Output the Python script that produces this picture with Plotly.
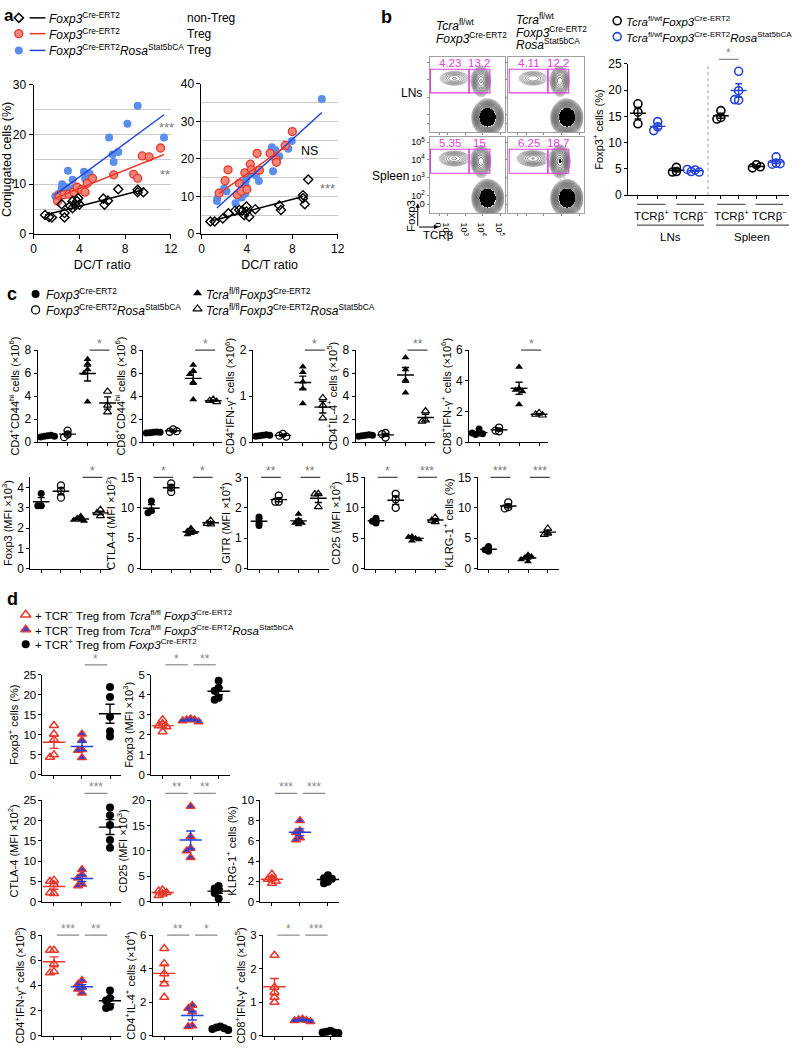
import numpy as np
import plotly.graph_objects as go

W, H = 796, 1048
FONT = "Liberation Sans"
RED = "#e8382b"
BLUE = "#2443d6"
MAG = "#e03ce0"

# ---------------- Panel a data ----------------
a1_blue_x = [1.9, 2.15, 2.45, 2.5, 2.9, 3.0, 3.4, 3.5, 4.4, 4.5, 4.9, 6.6, 6.9, 7.0, 7.4, 8.2, 9.1, 11.4]
a1_blue_y = [7.6, 8.0, 9.2, 10.0, 9.4, 12.7, 10.9, 9.2, 12.5, 11.1, 12.1, 19.4, 16.0, 14.5, 16.5, 22.2, 25.8, 19.4]
a1_red_x = [2.1, 2.2, 2.65, 3.1, 3.5, 3.8, 4.2, 4.5, 4.7, 5.15, 7.0, 8.75, 9.1, 9.5, 10.1, 11.1]
a1_red_y = [6.6, 7.8, 7.9, 8.0, 8.4, 9.4, 8.9, 8.4, 10.2, 11.2, 11.9, 12.0, 11.2, 15.7, 15.5, 17.3]
a1_black_x = [1.0, 1.35, 1.6, 2.45, 2.7, 2.7, 3.2, 3.4, 3.4, 3.65, 3.8, 3.9, 4.0, 6.1, 6.2, 6.5, 7.4, 9.1, 9.1, 9.6]
a1_black_y = [3.8, 3.4, 3.3, 6.0, 3.3, 4.2, 5.6, 6.6, 5.2, 5.8, 6.6, 7.2, 5.9, 7.1, 5.9, 6.7, 9.0, 8.4, 8.9, 8.4]
a1_fit_blue_x, a1_fit_blue_y = [1.9, 11.4], [7.9, 24.0]
a1_fit_red_x, a1_fit_red_y = [1.9, 11.4], [7.2, 16.0]
a1_fit_black_x, a1_fit_black_y = [1.0, 9.6], [3.8, 8.9]

a2_blue_x = [1.36, 1.4, 2.0, 2.2, 3.0, 3.4, 3.55, 3.85, 3.9, 3.9, 4.0, 4.25, 4.8, 5.05, 6.2, 6.3, 6.5, 6.85, 7.65, 7.95, 10.6]
a2_blue_y = [8.8, 9.5, 12.1, 11.4, 8.2, 9.8, 9.7, 10.7, 12.7, 14.2, 15.2, 16.3, 15.6, 14.1, 23.1, 16.7, 22.4, 20.7, 22.7, 24.8, 36.0]
a2_red_x = [1.56, 2.08, 2.34, 3.15, 3.33, 3.5, 3.82, 4.0, 4.3, 4.4, 4.9, 5.1, 6.04, 6.56, 6.6, 7.37, 8.0]
a2_red_y = [10.9, 14.2, 17.1, 10.5, 13.5, 11.4, 16.3, 11.9, 18.6, 17.1, 21.5, 17.0, 21.5, 19.8, 19.1, 23.6, 27.3]
a2_black_x = [0.78, 1.16, 1.88, 2.37, 2.95, 3.33, 3.6, 3.76, 3.96, 3.96, 4.2, 4.74, 6.85, 7.0, 8.94, 8.94, 9.1, 9.4]
a2_black_y = [3.3, 3.3, 4.1, 5.5, 6.2, 6.4, 6.2, 5.0, 7.3, 6.0, 4.6, 6.6, 7.6, 6.4, 10.3, 9.5, 7.9, 14.5]
a2_fit_blue_x, a2_fit_blue_y = [1.36, 10.6], [6.9, 32.4]
a2_fit_red_x, a2_fit_red_y = [1.56, 7.4], [10.8, 23.3]
a2_fit_black_x, a2_fit_black_y = [0.8, 8.94], [3.4, 10.0]

# ---------------- Panel b data ----------------
flow_pct_left = [4.23, 4.11, 5.35, 6.25]
flow_pct_right = [13.2, 12.2, 15, 18.7]
flow_pop_cx = [4.28, 3.89, 2.39]   # TCR+Foxp3-, TCR+Foxp3+, TCR-Foxp3+
flow_pop_cy = [1.84, 3.92, 4.08]
flow_pop_sx = [0.3, 0.22, 0.42]
flow_pop_sy = [0.35, 0.35, 0.21]
flow_gate_x = [1.05, 3.22, 4.39]
flow_gate_y = [3.25, 4.6]

b_groups = ["LN TCRb+ ctrl", "LN TCRb+ Stat5b", "LN TCRb- ctrl", "LN TCRb- Stat5b",
            "Spleen TCRb+ ctrl", "Spleen TCRb+ Stat5b", "Spleen TCRb- ctrl", "Spleen TCRb- Stat5b"]
b_foxp3_pct = [[17.4, 15.8, 13.6], [14.0, 13.0, 12.3], [5.3, 4.5, 4.4], [4.8, 4.5, 4.4, 4.9],
               [16.1, 14.8, 14.5], [23.6, 19.9, 18.1, 18.2], [5.8, 5.2, 5.4], [7.3, 6.1, 5.9, 6.0]]

# ---------------- Panel c data ----------------
c_cd4cd44 = [[0.55, 0.5, 0.6, 0.45, 0.5], [1.0, 0.66, 0.43], [6.8, 7.2, 6.3, 6.0, 3.5], [4.4, 3.2, 2.6]]
c_cd8cd44 = [[0.85, 0.82, 0.88, 0.8, 0.86], [1.1, 0.9, 0.95], [6.7, 6.2, 5.9, 5.2, 3.7], [3.7, 3.6, 3.5]]
c_cd4ifng = [[0.15, 0.14, 0.16, 0.13, 0.15], [0.18, 0.14, 0.12], [1.52, 1.64, 1.31, 1.16, 0.84], [0.96, 0.8, 0.52]]
c_cd4il4 = [[0.6, 0.55, 0.65, 0.5, 0.6], [0.8, 0.7, 0.4], [7.35, 6.3, 5.4, 4.3], [2.7, 1.9, 1.8]]
c_cd8ifng = [[0.85, 0.6, 0.5, 0.55, 0.6], [0.95, 0.7, 0.75], [4.9, 3.5, 3.4, 3.3, 2.45], [1.9, 1.8, 1.75]]
c_foxp3 = [[3.7, 3.1, 3.1], [4.1, 3.85, 3.5], [2.6, 2.5, 2.4, 2.35, 2.4], [2.9, 2.75, 2.6]]
c_ctla4 = [[11.1, 9.5, 9.2], [14.0, 13.3, 12.6], [6.7, 6.2, 5.8, 6.0, 5.6], [7.9, 7.4, 7.3]]
c_gitr = [[1.7, 1.55, 1.42], [2.4, 2.2, 2.2], [1.8, 1.6, 1.5, 1.45, 1.5], [2.46, 2.45, 2.03]]
c_cd25 = [[8.3, 7.8, 7.5], [12.3, 11.4, 10.0], [5.0, 4.6, 5.3, 4.8, 5.2], [8.4, 7.9, 7.7]]
c_klrg1 = [[3.66, 3.1, 2.85], [10.9, 10.1, 9.9], [2.3, 1.8, 1.2, 2.0, 1.5], [6.6, 5.8, 5.6]]

# ---------------- Panel d data ----------------
d_foxp3pct = [[12.3, 10.2, 8.8, 5.0, 4.4], [10.2, 8.6, 6.3, 6.1, 4.3], [21.9, 19.4, 14.5, 10.9, 9.6]]
d_foxp3mfi = [[2.75, 2.55, 2.45, 2.4, 2.15], [2.8, 2.75, 2.75, 2.7, 2.65], [4.7, 4.35, 4.2, 3.85, 3.75]]
d_ctla4 = [[5.3, 5.0, 4.2, 2.0, 2.2], [7.9, 6.6, 5.8, 4.3, 3.9], [23.2, 21.3, 18.9, 15.2, 13.3]]
d_cd25 = [[2.3, 2.1, 1.8, 1.5, 1.2], [18.8, 12.8, 10.5, 10.0, 8.7], [3.1, 2.6, 2.3, 1.7, 0.6]]
d_klrg1 = [[2.7, 2.3, 2.2, 2.0, 1.8], [8.0, 7.0, 6.8, 6.3, 6.1], [2.6, 2.3, 2.25, 1.95, 1.8]]
d_cd4ifng = [[6.8, 6.8, 5.7, 5.1, 5.0], [4.4, 4.1, 3.87, 3.7, 3.4], [3.6, 3.0, 2.8, 2.3, 2.2]]
d_cd4il4 = [[5.2, 4.3, 3.7, 3.1, 2.3], [1.82, 1.63, 1.43, 0.59, 0.55], [0.55, 0.5, 0.45, 0.4, 0.35]]
d_cd8ifng = [[2.4, 1.45, 1.3, 1.15, 1.0], [0.5, 0.48, 0.46, 0.45, 0.42], [0.15, 0.12, 0.1, 0.1, 0.08]]

# ---------------- helpers ----------------
fig = go.Figure()
LAY = {}
SHAPES = []
ANN = []
_n = [0]


def add_axes(x0, x1, ytop, ybot, xkw, ykw):
    _n[0] += 1
    s = '' if _n[0] == 1 else str(_n[0])
    LAY['xaxis' + s] = dict(domain=[x0 / W, x1 / W], anchor='y' + s, **xkw)
    LAY['yaxis' + s] = dict(domain=[1 - ybot / H, 1 - ytop / H], anchor='x' + s, **ykw)
    return 'x' + s, 'y' + s


def px(x):
    return x / W


def py(y):
    return 1 - y / H


def text(x, y, t, size=11, color='black', xanchor='left', yanchor='middle', angle=0):
    ANN.append(dict(x=px(x), y=py(y), xref='paper', yref='paper', text=t, showarrow=False,
                    xanchor=xanchor, yanchor=yanchor, textangle=angle, borderpad=0,
                    font=dict(size=size, color=color, family=FONT)))


def pline(x0, y0, x1, y1, color='black', width=1, dash='solid'):
    SHAPES.append(dict(type='line', xref='paper', yref='paper', x0=px(x0), y0=py(y0), x1=px(x1), y1=py(y1),
                       line=dict(color=color, width=width, dash=dash)))


# canvas (pixel coordinates) for legend symbols
CX, CY = add_axes(0, W, 0, H, dict(range=[0, W], visible=False, fixedrange=True),
                  dict(range=[H, 0], visible=False, fixedrange=True))


def leg_marker(x, y, symbol, size, color, lcolor, lw):
    fig.add_trace(go.Scatter(x=[x], y=[y], xaxis=CX, yaxis=CY, mode='markers', cliponaxis=False,
                             marker=dict(symbol=symbol, size=size, color=color, line=dict(color=lcolor, width=lw))))


def leg_line(x0, x1, y, color):
    fig.add_trace(go.Scatter(x=[x0, x1], y=[y, y], xaxis=CX, yaxis=CY, mode='lines', cliponaxis=False,
                             line=dict(color=color, width=1.5)))


def swarm(vals, ppu_y, ppu_x, msize):
    placed, offs = [], []
    step = msize * 0.5
    for v in vals:
        yp = v * ppu_y
        xo = 0
        for k in [0, -1, 1, -2, 2, -3, 3]:
            xo = k * step
            if all((xo - a) ** 2 + (yp - b) ** 2 >= (msize * 0.5) ** 2 for a, b in placed):
                break
        placed.append((xo, yp))
        offs.append(xo / ppu_x)
    return offs


def dotplot(x0, width, ytop, ybot, xrange, ymax, yticks, ytitle, groups, styles, sigs,
            sig_dy=0, sig_off=(0.1, 0.1), mean_hw=0.42, cap_hw=0.17, tick_size=12, title_size=11,
            msize=7, sigcolor='#444', starcolor='#777', positions=None, sig_y_px=None):
    if positions is None:
        positions = list(range(1, len(groups) + 1))
    xr, yr = add_axes(x0, x0 + width, ytop, ybot,
                      dict(range=xrange, showline=True, linecolor='black', linewidth=1, ticks='outside',
                           ticklen=3, tickwidth=1, tickcolor='black', tickvals=positions,
                           showticklabels=False, showgrid=False, zeroline=False, fixedrange=True),
                      dict(range=[0, ymax], showline=True, linecolor='black', linewidth=1, ticks='outside',
                           ticklen=3, tickwidth=1, tickcolor='black', tickvals=yticks,
                           tickfont=dict(size=tick_size, family=FONT, color='black'),
                           showgrid=False, zeroline=False, fixedrange=True,
                           title=dict(text=ytitle, font=dict(size=title_size, family=FONT, color='black'),
                                      standoff=2)))
    ppu_y = (ybot - ytop) / ymax
    ppu_x = width / (xrange[1] - xrange[0])
    for gi, (vals, st) in enumerate(zip(groups, styles)):
        offs = swarm(vals, ppu_y, ppu_x, msize)
        c = positions[gi]
        fig.add_trace(go.Scatter(x=[c + o for o in offs], y=vals, xaxis=xr, yaxis=yr, mode='markers',
                                 cliponaxis=False,
                                 marker=dict(symbol=st['symbol'], size=msize, color=st['fill'],
                                             line=dict(color=st['line'], width=st['lw']))))
        m = float(np.mean(vals))
        s = float(np.std(vals, ddof=1) / np.sqrt(len(vals)))
        ex = [c - mean_hw, c + mean_hw, None, c, c, None, c - cap_hw, c + cap_hw, None, c - cap_hw, c + cap_hw]
        ey = [m, m, None, m - s, m + s, None, m + s, m + s, None, m - s, m - s]
        fig.add_trace(go.Scatter(x=ex, y=ey, xaxis=xr, yaxis=yr, mode='lines', cliponaxis=False,
                                 line=dict(color=st['err'], width=1.4)))
    for (a, b, lab) in sigs:
        xa_, xb_ = positions[a - 1] + sig_off[0], positions[b - 1] + sig_off[1]
        yl = py(sig_y_px if sig_y_px is not None else ytop + sig_dy)
        SHAPES.append(dict(type='line', xref=xr, yref='paper', x0=xa_, x1=xb_, y0=yl, y1=yl,
                           line=dict(color=sigcolor, width=1.2)))
        ANN.append(dict(x=(xa_ + xb_) / 2, y=yl, xref=xr, yref='paper', text=lab, showarrow=False,
                        yanchor='bottom', yshift=-3, font=dict(size=12, color=starcolor, family=FONT)))
    return xr, yr


# ================= Panel a =================
text(0, 9, '<b>a</b>', size=17)
leg_marker(16, 11, 'diamond-open', 7, 'black', 'black', 1.5)
leg_line(27, 43, 11, 'black')
leg_marker(16, 27, 'circle', 8, '#f2847a', RED, 1.3)
leg_line(27, 43, 27, RED)
leg_marker(16, 44, 'circle', 8, '#5b8ded', '#5b8ded', 0)
leg_line(27, 43, 44, BLUE)
text(46, 11, '<i>Foxp3</i><sup>Cre-ERT2</sup>', size=12)
text(46, 27, '<i>Foxp3</i><sup>Cre-ERT2</sup>', size=12)
text(46, 44, '<i>Foxp3</i><sup>Cre-ERT2</sup><i>Rosa</i><sup>Stat5bCA</sup>', size=12)
text(185, 11, 'non-Treg', size=12)
text(185, 27, 'Treg', size=12)
text(185, 44, 'Treg', size=12)


def a_axes(x0, x1, ytop, ybot, ymax, ytitle):
    return add_axes(x0, x1, ytop, ybot,
                    dict(range=[0, 12], tickvals=[0, 4, 8, 12], showline=True, linecolor='black', linewidth=1,
                         ticks='outside', ticklen=4, tickcolor='black', showgrid=False, zeroline=False,
                         tickfont=dict(size=12, family=FONT, color='black'), fixedrange=True,
                         title=dict(text='DC/T ratio', font=dict(size=12.5, family=FONT, color='black'), standoff=4)),
                    dict(range=[0, ymax], tickvals=list(range(0, ymax + 1, 10)), showline=True, linecolor='black',
                         linewidth=1, ticks='outside', ticklen=4, tickcolor='black', showgrid=True,
                         gridcolor='#c9c9c9', gridwidth=1, zeroline=False, fixedrange=True,
                         minor=dict(dtick=5, showgrid=True, gridcolor='#c9c9c9', gridwidth=1),
                         tickfont=dict(size=12, family=FONT, color='black'),
                         title=dict(text=ytitle, font=dict(size=12.5, family=FONT, color='black'), standoff=4)))


def a_series(xr, yr, bx, by, rx, ry, kx, ky, fits):
    fig.add_trace(go.Scatter(x=bx, y=by, xaxis=xr, yaxis=yr, mode='markers', cliponaxis=False,
                             marker=dict(symbol='circle', size=8, color='#5b8ded', line=dict(width=0))))
    fig.add_trace(go.Scatter(x=rx, y=ry, xaxis=xr, yaxis=yr, mode='markers', cliponaxis=False,
                             marker=dict(symbol='circle', size=8, color='#f2847a', line=dict(color=RED, width=1.3))))
    fig.add_trace(go.Scatter(x=kx, y=ky, xaxis=xr, yaxis=yr, mode='markers', cliponaxis=False,
                             marker=dict(symbol='diamond-open', size=7, color='black', line=dict(color='black', width=1.4))))
    for (fx, fy, col) in fits:
        fig.add_trace(go.Scatter(x=fx, y=fy, xaxis=xr, yaxis=yr, mode='lines', cliponaxis=False,
                                 line=dict(color=col, width=1.5)))


xa1, ya1 = a_axes(31, 170, 79, 230, 30, 'Conjugated cells (%)')
a_series(xa1, ya1, a1_blue_x, a1_blue_y, a1_red_x, a1_red_y, a1_black_x, a1_black_y,
         [(a1_fit_blue_x, a1_fit_blue_y, BLUE), (a1_fit_red_x, a1_fit_red_y, RED),
          (a1_fit_black_x, a1_fit_black_y, 'black')])
xa2, ya2 = a_axes(201, 339, 78, 230, 40, '')
a_series(xa2, ya2, a2_blue_x, a2_blue_y, a2_red_x, a2_red_y, a2_black_x, a2_black_y,
         [(a2_fit_blue_x, a2_fit_blue_y, BLUE), (a2_fit_red_x, a2_fit_red_y, RED),
          (a2_fit_black_x, a2_fit_black_y, 'black')])
text(166, 122, '***', size=13, color='#777', xanchor='center')
text(164, 170, '**', size=13, color='#777', xanchor='center')
text(310, 146, 'NS', size=12.5, xanchor='center')
text(329, 184, '***', size=13, color='#777', xanchor='center')

# ================= Panel b (flow) =================
text(382, 10, '<b>b</b>', size=18)
text(437, 18, '<i>Tcra</i><sup>fl/wt</sup>', size=12)
text(437, 31, '<i>Foxp3</i><sup>Cre-ERT2</sup>', size=12)
text(519, 12, '<i>Tcra</i><sup>fl/wt</sup>', size=12)
text(519, 25, '<i>Foxp3</i><sup>Cre-ERT2</sup>', size=12)
text(519, 38, '<i>Rosa</i><sup>Stat5bCA</sup>', size=12)
text(425, 87, 'LNs', size=12, xanchor='right')
text(412, 171, 'Spleen', size=12, xanchor='right')

flow_boxes = [(432, 508, 51, 127), (511.7, 588, 51, 127), (432, 508, 132, 209), (511.7, 588, 132, 209)]
gx = np.linspace(1.0, 5.22, 180)
gy = np.linspace(1.0, 5.28, 180)
GX, GY = np.meshgrid(gx, gy)
for k, (x0, x1, yt, yb) in enumerate(flow_boxes):
    lab = (k == 2)
    xr, yr = add_axes(x0, x1, yt, yb,
                      dict(range=[1.0, 5.22], showline=True, mirror=True, linecolor='#a0a0a0', linewidth=1,
                           ticks='outside', ticklen=2, tickcolor='#888', tickvals=[1.53, 2, 3, 4, 5],
                           ticktext=['0', '10<sup>2</sup>', '10<sup>3</sup>', '10<sup>4</sup>', '10<sup>5</sup>'],
                           showticklabels=lab, tickfont=dict(size=9, family=FONT, color='black'),
                           showgrid=False, zeroline=False, fixedrange=True),
                      dict(range=[1.0, 5.28], showline=True, mirror=True, linecolor='#a0a0a0', linewidth=1,
                           ticks='outside', ticklen=2, tickcolor='#888', tickvals=[1.5, 2, 3, 4, 5],
                           ticktext=['0', '10<sup>2</sup>', '10<sup>3</sup>', '10<sup>4</sup>', '10<sup>5</sup>'],
                           showticklabels=lab, tickfont=dict(size=9, family=FONT, color='black'),
                           showgrid=False, zeroline=False, fixedrange=True))
    weights = [100 - flow_pct_left[k] - flow_pct_right[k], flow_pct_right[k], flow_pct_left[k]]
    dens = np.zeros_like(GX)
    for w, cx, cy, sx, sy in zip(weights, flow_pop_cx, flow_pop_cy, flow_pop_sx, flow_pop_sy):
        dens += w / (sx * sy) * np.exp(-0.5 * (((GX - cx) / sx) ** 2 + ((GY - cy) / sy) ** 2))
    logd = np.log10(dens + 1e-6)
    peak = float(logd.max())
    fig.add_trace(go.Heatmap(x=gx, y=gy, z=np.where(logd > peak - 0.5, 1.0, np.nan), xaxis=xr, yaxis=yr,
                             colorscale=[[0, 'black'], [1, 'black']], showscale=False, zsmooth=False,
                             hoverinfo='skip'))
    fig.add_trace(go.Contour(x=gx, y=gy, z=logd, xaxis=xr, yaxis=yr, showscale=False,
                             contours=dict(coloring='lines', start=peak - 2.0, end=peak - 0.5, size=0.11),
                             colorscale=[[0, '#a0a0a0'], [0.45, '#444'], [1, '#111']],
                             line=dict(width=0.6), hoverinfo='skip'))
    gxl, gxm, gxr = flow_gate_x
    gyb, gyt = flow_gate_y
    for (ga, gb) in [(gxl, gxm), (gxm, gxr)]:
        SHAPES.append(dict(type='rect', xref=xr, yref=yr, x0=ga, x1=gb, y0=gyb, y1=gyt,
                           line=dict(color=MAG, width=1.1)))
    ANN.append(dict(x=(gxl + gxm) / 2, y=4.93, xref=xr, yref=yr, text=f'{flow_pct_left[k]:g}', showarrow=False,
                    font=dict(size=11.5, color=MAG, family=FONT)))
    ANN.append(dict(x=(gxm + gxr) / 2, y=4.93, xref=xr, yref=yr, text=f'{flow_pct_right[k]:g}', showarrow=False,
                    font=dict(size=11.5, color=MAG, family=FONT)))

# axis arrows
ANN.append(dict(x=px(420), y=py(199), xref='paper', yref='paper', ax=0, ay=24, axref='pixel', ayref='pixel',
                showarrow=True, arrowhead=2, arrowsize=0.9, arrowwidth=1, arrowcolor='black', text=''))
ANN.append(dict(x=px(441), y=py(223), xref='paper', yref='paper', ax=-21, ay=0, axref='pixel', ayref='pixel',
                showarrow=True, arrowhead=2, arrowsize=0.9, arrowwidth=1, arrowcolor='black', text=''))
text(413, 212, 'Foxp3', size=11.5, xanchor='center', angle=-90)
text(424, 231, 'TCRβ', size=11.5)

# ================= Panel b (dot plot) =================
leg_marker(622, 14, 'circle-open', 8, 'black', 'black', 1.6)
leg_marker(622, 30, 'circle-open', 8, BLUE, BLUE, 1.6)
text(630, 14, '<i>Tcra</i><sup>fl/wt</sup><i>Foxp3</i><sup>Cre-ERT2</sup>', size=11.5)
text(630, 30, '<i>Tcra</i><sup>fl/wt</sup><i>Foxp3</i><sup>Cre-ERT2</sup><i>Rosa</i><sup>Stat5bCA</sup>', size=11.5)
b_pos = [0.5, 1.5, 2.45, 3.4, 4.7, 5.6, 6.5, 7.5]
st_bk = dict(symbol='circle-open', fill='black', line='black', lw=1.6, err='black')
st_bl = dict(symbol='circle-open', fill=BLUE, line=BLUE, lw=1.6, err=BLUE)
xb, yb = dotplot(633, 163, 57.7, 190.7, [0, 8.15], 25, [0, 5, 10, 15, 20, 25], 'Foxp3<sup>+</sup> cells (%)',
                 b_foxp3_pct, [st_bk, st_bl] * 4, [(5, 6, '*')], sig_off=(-0.1, 0), mean_hw=0.4, cap_hw=0.17,
                 tick_size=12, title_size=11, msize=8, sigcolor='#888', starcolor='#888', positions=b_pos,
                 sig_y_px=53)
SHAPES.append(dict(type='line', xref=xb, yref=yb, x0=4.05, x1=4.05, y0=0, y1=25,
                   line=dict(color='#999', width=1, dash='dot')))
for (x0, x1, lab) in [(642, 671, 'TCRβ<sup>+</sup>'), (682, 710, 'TCRβ<sup>−</sup>'),
                      (723, 752, 'TCRβ<sup>+</sup>'), (762, 790, 'TCRβ<sup>−</sup>')]:
    pline(x0, 200, x1, 200, color='#555', width=1.2)
    text((x0 + x1) / 2, 211, lab, size=11.5, xanchor='center')
for (x0, x1, lab) in [(642, 710, 'LNs'), (722, 796, 'Spleen')]:
    pline(x0, 221, x1, 221, color='#555', width=1.2)
    text((x0 + x1) / 2, 233, lab, size=11.5, xanchor='center')

# ================= Panel c =================
text(3, 291, '<b>c</b>', size=18)
leg_marker(33, 291, 'circle', 8, 'black', 'black', 0)
leg_marker(33, 307, 'circle-open', 8, 'black', 'black', 1.3)
leg_marker(197, 290, 'triangle-up', 8, 'black', 'black', 0)
leg_marker(197, 306, 'triangle-up-open', 8, 'black', 'black', 1.2)
text(43, 291, '<i>Foxp3</i><sup>Cre-ERT2</sup>', size=12)
text(43, 307, '<i>Foxp3</i><sup>Cre-ERT2</sup><i>Rosa</i><sup>Stat5bCA</sup>', size=12)
text(205, 291, '<i>Tcra</i><sup>fl/fl</sup><i>Foxp3</i><sup>Cre-ERT2</sup>', size=12)
text(205, 307, '<i>Tcra</i><sup>fl/fl</sup><i>Foxp3</i><sup>Cre-ERT2</sup><i>Rosa</i><sup>Stat5bCA</sup>', size=12)

c_styles = [dict(symbol='circle', fill='black', line='black', lw=0, err='black'),
            dict(symbol='circle-open', fill='black', line='black', lw=1.3, err='black'),
            dict(symbol='triangle-up', fill='black', line='black', lw=0, err='black'),
            dict(symbol='triangle-up-open', fill='black', line='black', lw=1.2, err='black')]
c_top = [
    (35, c_cd4cd44, 8, [0, 2, 4, 6, 8], 'CD4<sup>+</sup>CD44<sup>hi</sup> cells (×10<sup>6</sup>)', [(3, 4, '*')]),
    (142, c_cd8cd44, 8, [0, 2, 4, 6, 8], 'CD8<sup>+</sup>CD44<sup>hi</sup> cells (×10<sup>6</sup>)', [(3, 4, '*')]),
    (253, c_cd4ifng, 2, [0, 1, 2], 'CD4<sup>+</sup>IFN-γ<sup>+</sup> cells (×10<sup>6</sup>)', [(3, 4, '*')]),
    (357, c_cd4il4, 8, [0, 2, 4, 6, 8], 'CD4<sup>+</sup>IL-4<sup>+</sup> cells (×10<sup>5</sup>)', [(3, 4, '**')]),
    (472, c_cd8ifng, 6, [0, 2, 4, 6], 'CD8<sup>+</sup>IFN-γ<sup>+</sup> cells (×10<sup>6</sup>)', [(3, 4, '*')]),
]
for (x0, data, ymax, ticks, title, sigs) in c_top:
    dotplot(x0, 80, 347.7, 441, [0.5, 4.45], ymax, ticks, title, data, c_styles, sigs,
            sig_off=(0.1, 0.1), mean_hw=0.42, cap_hw=0.18, tick_size=12, title_size=11, msize=7)

c_bot = [
    (27.7, c_foxp3, 4.5, [0, 1, 2, 3, 4], 'Foxp3 (MFI ×10<sup>3</sup>)', [(3, 4, '*')]),
    (139.3, c_ctla4, 15, [0, 5, 10, 15], 'CTLA-4 (MFI ×10<sup>2</sup>)', [(1, 2, '*'), (3, 4, '*')]),
    (248.3, c_gitr, 3, [0, 1, 2, 3], 'GITR (MFI ×10<sup>4</sup>)', [(1, 2, '**'), (3, 4, '**')]),
    (366.7, c_cd25, 15, [0, 5, 10, 15], 'CD25 (MFI ×10<sup>2</sup>)', [(1, 2, '*'), (3, 4, '***')]),
    (480.7, c_klrg1, 15, [0, 5, 10, 15], 'KLRG-1<sup>+</sup> cells (%)', [(1, 2, '***'), (3, 4, '***')]),
]
for (x0, data, ymax, ticks, title, sigs) in c_bot:
    dotplot(x0, 82, 476.7, 569.3, [0.45, 4.55], ymax, ticks, title, data, c_styles, sigs,
            sig_off=(0.1, 0.1), mean_hw=0.42, cap_hw=0.18, tick_size=12, title_size=11, msize=7)

# ================= Panel d =================
text(3, 600, '<b>d</b>', size=18)
leg_marker(23, 616, 'triangle-up-open', 9, RED, RED, 1.5)
leg_marker(23, 631, 'triangle-up', 9, '#4a3cc0', RED, 1.3)
leg_marker(23, 646, 'circle', 8, 'black', 'black', 0)
text(31, 616, '+ TCR<sup>−</sup> Treg from <i>Tcra</i><sup>fl/fl</sup> <i>Foxp3</i><sup>Cre-ERT2</sup>', size=11.5)
text(31, 631, '+ TCR<sup>−</sup> Treg from <i>Tcra</i><sup>fl/fl</sup> <i>Foxp3</i><sup>Cre-ERT2</sup><i>Rosa</i><sup>Stat5bCA</sup>', size=11.5)
text(31, 646, '+ TCR<sup>+</sup> Treg from <i>Foxp3</i><sup>Cre-ERT2</sup>', size=11.5)

d_styles = [dict(symbol='triangle-up-open', fill=RED, line=RED, lw=1.5, err=RED),
            dict(symbol='triangle-up', fill='#4a3cc0', line=RED, lw=1.3, err=BLUE),
            dict(symbol='circle', fill='black', line='black', lw=0, err='black')]
d_specs = [
    (40, 676.7, 778.3, d_foxp3pct, 25, [0, 5, 10, 15, 20, 25], 'Foxp3<sup>+</sup> cells (%)', [(2, 3, '*')], -10),
    (150, 676.7, 778.3, d_foxp3mfi, 5, [0, 1, 2, 3, 4, 5], 'Foxp3 (MFI ×10<sup>3</sup>)', [(1, 2, '*'), (2, 3, '**')], -10),
    (40, 804, 906.7, d_ctla4, 25, [0, 5, 10, 15, 20, 25], 'CTLA-4 (MFI ×10<sup>2</sup>)', [(2, 3, '***')], -7),
    (150, 804, 906.7, d_cd25, 20, [0, 5, 10, 15, 20], 'CD25 (MFI ×10<sup>3</sup>)', [(1, 2, '**'), (2, 3, '**')], -7),
    (260.7, 804, 906.7, d_klrg1, 10, [0, 2, 4, 6, 8, 10], 'KLRG-1<sup>+</sup> cells (%)', [(1, 2, '***'), (2, 3, '***')], -7),
    (40, 940.7, 1042.7, d_cd4ifng, 8, [0, 2, 4, 6, 8], 'CD4<sup>+</sup>IFN-γ<sup>+</sup> cells (×10<sup>5</sup>)', [(1, 2, '***'), (2, 3, '**')], 0),
    (151.7, 940.7, 1042.7, d_cd4il4, 6, [0, 2, 4, 6], 'CD4<sup>+</sup>IL-4<sup>+</sup> cells (×10<sup>4</sup>)', [(1, 2, '**'), (2, 3, '*')], 0),
    (263.3, 940.7, 1042.7, d_cd8ifng, 3, [0, 1, 2, 3], 'CD8<sup>+</sup>IFN-γ<sup>+</sup> cells (×10<sup>5</sup>)', [(1, 2, '*'), (2, 3, '***')], 0),
]
for (x0, yt, ybt, data, ymax, ticks, title, sigs, sdy) in d_specs:
    dotplot(x0, 80, yt, ybt, [0.59, 3.41], ymax, ticks, title, data, d_styles, sigs, sig_dy=sdy,
            sig_off=(0.1, -0.1), mean_hw=0.4, cap_hw=0.16, tick_size=11.5, title_size=11, msize=8,
            sigcolor='#888', starcolor='#888')

LAY.update(dict(width=W, height=H, margin=dict(l=0, r=0, t=0, b=0), paper_bgcolor='white',
                plot_bgcolor='rgba(0,0,0,0)', showlegend=False, hovermode=False,
                font=dict(family=FONT, color='black', size=11), shapes=SHAPES, annotations=ANN))
fig.update_layout(**LAY)
fig.write_html("out.html", config={'displayModeBar': False},
               post_script="document.body.style.margin='0';document.body.style.overflow='hidden';")
